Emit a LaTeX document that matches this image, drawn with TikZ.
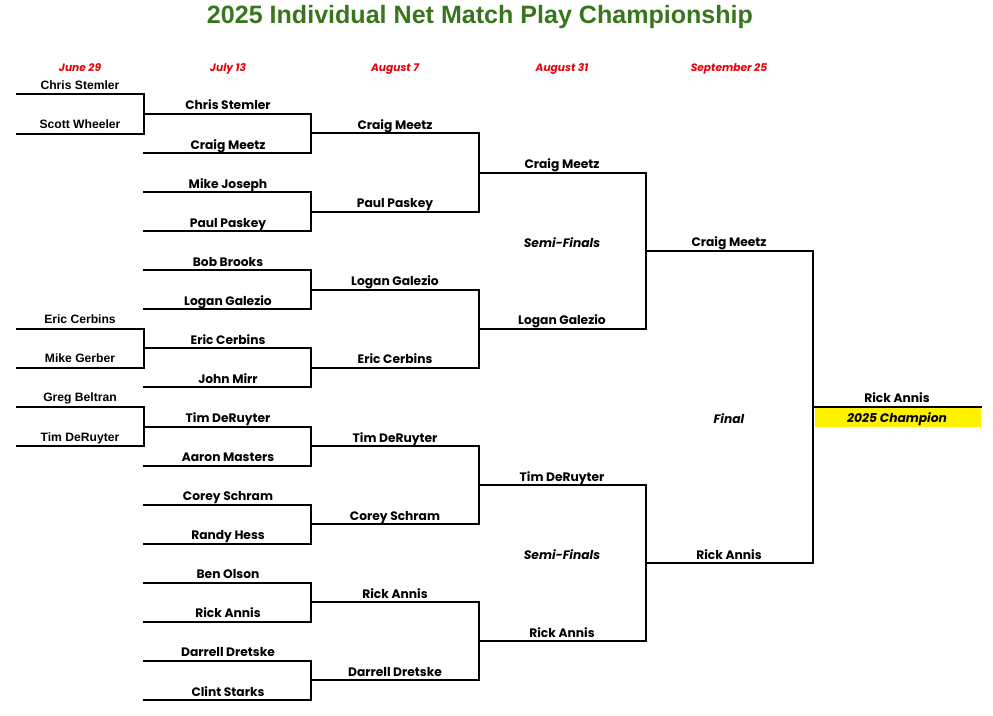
\documentclass[tikz,border=0pt]{standalone}
\usepackage{fontspec}
\setmainfont{Liberation Sans}
\newfontfamily\mont{Poppins}
\definecolor{titlegreen}{HTML}{38761D}
\definecolor{datered}{HTML}{E8000B}
\begin{document}
\begin{tikzpicture}[x=0.75pt,y=-0.75pt]
\tikzset{
  ln/.style={line width=1.5pt, line cap=rect},
  nm/.style={anchor=base, inner sep=0pt, font=\mont\bfseries\fontsize{9.2}{10}\selectfont},
  nmA/.style={anchor=base, inner sep=0pt, font=\bfseries\fontsize{9.1}{10}\selectfont},
  dt/.style={anchor=base, inner sep=0pt, text=datered, font=\mont\bfseries\itshape\fontsize{8}{9}\selectfont},
  rnd/.style={anchor=base, inner sep=0pt, font=\mont\bfseries\itshape\fontsize{9.2}{10}\selectfont},
}
\useasboundingbox (0,0) rectangle (993,716);
% title
\node[anchor=base, inner sep=0pt, text=titlegreen, font=\bfseries\fontsize{18.8}{20}\selectfont] (title) at (480,24) {2025 Individual Net Match Play Championship};
% dates
\node[dt] (d0) at (80,72) {June 29};
\node[dt] (d1) at (228,72) {July 13};
\node[dt] (d2) at (395,72) {August 7};
\node[dt] (d3) at (562,72) {August 31};
\node[dt] (d4) at (729,72) {September 25};
% column 0
\foreach \nm/\yy [count=\i from 0] in {Chris Stemler/94.5, Scott Wheeler/133.6, Eric Cerbins/328.9, Mike Gerber/367.9, Greg Beltran/407.0, Tim DeRuyter/446.1} {
  \coordinate (z\i l) at (17,\yy);
  \coordinate (z\i r) at (144,\yy);
  \node[nmA] (zn\i) at (80,\yy-5) {\nm};
  \draw[ln] (z\i l) -- (z\i r);
}
\draw[ln] (z0r) -- (z1r);
\draw[ln] (z2r) -- (z3r);
\draw[ln] (z4r) -- (z5r);
% column 1
\foreach \nm [count=\i from 0] in {Chris Stemler, Craig Meetz, Mike Joseph, Paul Paskey, Bob Brooks, Logan Galezio, Eric Cerbins, John Mirr, Tim DeRuyter, Aaron Masters, Corey Schram, Randy Hess, Ben Olson, Rick Annis, Darrell Dretske, Clint Starks} {
  \coordinate (a\i l) at (144,{114+39.07*\i});
  \coordinate (a\i r) at (311,{114+39.07*\i});
  \node[nm] (an\i) at (228,{114+39.07*\i-4}) {\nm};
  \draw[ln] (a\i l) -- (a\i r);
}
\foreach \i in {0,2,...,14} {
  \pgfmathtruncatemacro\j{\i+1}
  \draw[ln] (a\i r) -- (a\j r);
}
% column 2
\foreach \nm [count=\i from 0] in {Craig Meetz, Paul Paskey, Logan Galezio, Eric Cerbins, Tim DeRuyter, Corey Schram, Rick Annis, Darrell Dretske} {
  \coordinate (b\i l) at (311,{133.5+78.14*\i});
  \coordinate (b\i r) at (479,{133.5+78.14*\i});
  \node[nm] (bn\i) at (395,{133.5+78.14*\i-4}) {\nm};
  \draw[ln] (b\i l) -- (b\i r);
}
\foreach \i in {0,2,...,6} {
  \pgfmathtruncatemacro\j{\i+1}
  \draw[ln] (b\i r) -- (b\j r);
}
% column 3
\foreach \nm [count=\i from 0] in {Craig Meetz, Logan Galezio, Tim DeRuyter, Rick Annis} {
  \coordinate (c\i l) at (479,{172.6+156.28*\i});
  \coordinate (c\i r) at (646,{172.6+156.28*\i});
  \node[nm] (cn\i) at (562,{172.6+156.28*\i-4}) {\nm};
  \draw[ln] (c\i l) -- (c\i r);
}
\draw[ln] (c0r) -- (c1r);
\draw[ln] (c2r) -- (c3r);
% column 4
\foreach \nm [count=\i from 0] in {Craig Meetz, Rick Annis} {
  \coordinate (e\i l) at (646,{250.7+312.56*\i});
  \coordinate (e\i r) at (813,{250.7+312.56*\i});
  \node[nm] (en\i) at (729,{250.7+312.56*\i-4}) {\nm};
  \draw[ln] (e\i l) -- (e\i r);
}
\draw[ln] (e0r) -- (e1r);
% champion
\coordinate (fl) at (813,407);
\coordinate (fr) at (981,407);
\fill[yellow] (815,407) rectangle (981,427);
\draw[ln] (fl) -- (fr);
\node[nm] (fn) at (897,403) {Rick Annis};
\node[rnd] (champ) at (897,422.5) {2025 Champion};
% round labels
\node[rnd] (sf1) at (562,247.5) {Semi-Finals};
\node[rnd] (sf2) at (562,559.5) {Semi-Finals};
\node[rnd] (fin) at (729,423.5) {Final};
\end{tikzpicture}
\end{document}
